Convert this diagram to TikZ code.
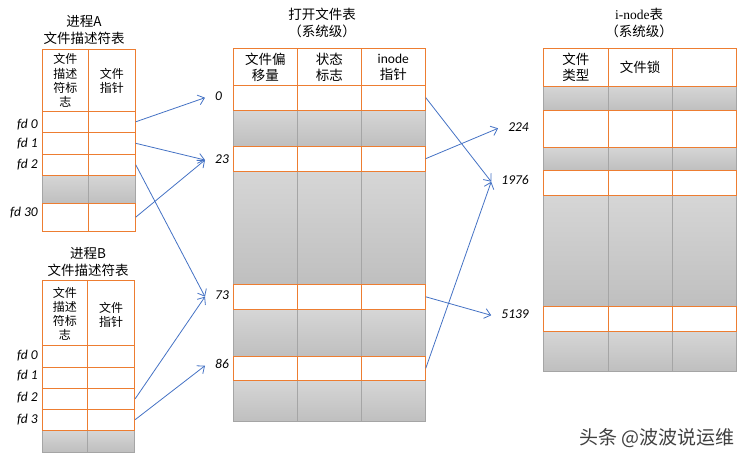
\documentclass[tikz,border=0pt]{standalone}
\usepackage{fontspec}
\setmainfont{Carlito}
\newfontfamily\cjk{Noto Sans CJK SC}
\newfontfamily\inodefont{Liberation Serif}
\usepackage{tikz}
\usetikzlibrary{arrows.meta, positioning, fit}

\definecolor{orline}{HTML}{ED7D31}
\definecolor{grline}{HTML}{A5A5A5}
\definecolor{shtop}{HTML}{D6D6D6}
\definecolor{shbot}{HTML}{BFBFBF}
\definecolor{ptrblue}{HTML}{4472C4}

\begin{document}
\begin{tikzpicture}[
    x=1pt, y=-1pt,
    font=\fontsize{13.5}{16}\selectfont,
    cell/.style={draw=#1, line width=0.9pt, inner sep=0pt},
    whiterow/.style={cell=orline, fill=white},
    grayrow/.style={cell=grline, top color=shtop, bottom color=shbot},
    title/.style={font=\cjk\fontsize{13.5}{17}\selectfont, align=center},
    head/.style={font=\cjk\fontsize{13.5}{16}\selectfont, align=center},
    smallhead/.style={font=\cjk\fontsize{12}{14.2}\selectfont, align=center},
    num/.style={font=\fontsize{13.5}{16}\selectfont\itshape, inner sep=0pt, text height=0.63em, text depth=0pt},
    ptr/.style={-{Straight Barb[length=6pt, width=10pt]}, draw=ptrblue, line width=0.8pt}
]
\useasboundingbox (0,0) rectangle (752,461);

% process A descriptor table
\coordinate (adiv) at (88.3,0);
\foreach \rn/\ra/\rb/\rs/\rl in {ag/175.3/203.3/grayrow/grline, ah/49.3/111.3/whiterow/orline,
    a0/111.3/132.3/whiterow/orline, a1/132.3/154.3/whiterow/orline, a2/154.3/175.3/whiterow/orline,
    a30/203.3/231/whiterow/orline}{
    \node[\rs, fit={(42.3,\ra) (135.3,\rb)}] (\rn) {};
    \draw[\rl, line width=0.9pt] (\rn.north -| adiv) -- (\rn.south -| adiv);
}
\node[title] (ta) at (84,30) {进程A\\文件描述符表};
\node[smallhead] (ah1) at (65.3,80.5) {文件\\描述\\符标\\志};
\node[smallhead] (ah2) at (111.8,81) {文件\\指针};

% process B descriptor table
\coordinate (bdiv) at (87.6,0);
\foreach \rn/\ra/\rb/\rs/\rl in {bg/430/452/grayrow/grline, bh/280/345.3/whiterow/orline,
    b0/345.3/367.3/whiterow/orline, b1/367.3/388.3/whiterow/orline, b2/388.3/409.3/whiterow/orline,
    b3/409.3/430/whiterow/orline}{
    \node[\rs, fit={(42.3,\ra) (134.7,\rb)}] (\rn) {};
    \draw[\rl, line width=0.9pt] (\rn.north -| bdiv) -- (\rn.south -| bdiv);
}
\node[title] (tb) at (88,262) {进程B\\文件描述符表};
\node[smallhead] (bh1) at (64.8,313.7) {文件\\描述\\符标\\志};
\node[smallhead] (bh2) at (111,315) {文件\\指针};

\foreach \ln/\ly/\lt in {la0/125/fd 0, la1/144/fd 1, la2/165.7/fd 2, la30/213/fd 30,
    lb0/356.7/fd 0, lb1/376/fd 1, lb2/398.3/fd 2, lb3/420/fd 3}
    \node[num, anchor=east] (\ln) at (38,\ly) {\lt};

% open file table
\coordinate (mdiv1) at (297.3,0);
\coordinate (mdiv2) at (361.3,0);
\foreach \rn/\ra/\rb/\rs/\rl in {mg1/110/146/grayrow/grline, mg2/171.3/284.3/grayrow/grline,
    mg3/309.3/356.3/grayrow/grline, mg4/380.3/421.3/grayrow/grline, mh/48.7/85.3/whiterow/orline,
    m0/85.3/110/whiterow/orline, m23/146/171.3/whiterow/orline, m73/284.3/309.3/whiterow/orline,
    m86/356.3/380.3/whiterow/orline}{
    \node[\rs, fit={(233.3,\ra) (425.3,\rb)}] (\rn) {};
    \foreach \dv in {mdiv1, mdiv2}
        \draw[\rl, line width=0.9pt] (\rn.north -| \dv) -- (\rn.south -| \dv);
}
\node[title] (tm) at (322,23.3) {打开文件表\\（系统级）};
\node[head] (mh1) at (265.3,67.3) {文件偏\\移量};
\node[head] (mh2) at (329.3,67.3) {状态\\标志};
\node[head] (mh3) at (393.3,67.3) {{\rmfamily inode}\\指针};

\node[num, anchor=west] (o0) at (215,97.7) {0};
\node[num, anchor=west] (o23) at (215,160) {23};
\node[num, anchor=west] (o73) at (215,296.7) {73};
\node[num, anchor=west] (o86) at (215,365.7) {86};

% i-node table
\coordinate (idiv1) at (608,0);
\coordinate (idiv2) at (672.3,0);
\foreach \rn/\ra/\rb/\rs/\rl in {ig1/86/110.3/grayrow/grline, ig2/147/170.3/grayrow/grline,
    ig3/195/306/grayrow/grline, ig4/331/371/grayrow/grline, ih/48.7/86/whiterow/orline,
    i1/110.3/147/whiterow/orline, i2/170.3/195/whiterow/orline, i3/306/331/whiterow/orline}{
    \node[\rs, fit={(543.3,\ra) (736.3,\rb)}] (\rn) {};
    \foreach \dv in {idiv1, idiv2}
        \draw[\rl, line width=0.9pt] (\rn.north -| \dv) -- (\rn.south -| \dv);
}
\node[title] (ti) at (639,22.5) {{\inodefont i-node}表\\（系统级）};
\node[head] (ih1) at (575.8,67.3) {文件\\类型};
\node[head] (ih2) at (640.2,67.3) {文件锁};

\node[num, anchor=east] (n224) at (529,128.3) {224};
\node[num, anchor=east] (n1976) at (529,181.7) {1976};
\node[num, anchor=east] (n5139) at (529,315.3) {5139};

% pointers
\draw[ptr] (a0.east) -- ([xshift=-10pt]o0.west);
\draw[ptr] (a1.east) -- ([xshift=-10pt]o23.west);
\draw[ptr] (a2.east) -- ([xshift=-10pt]o73.west);
\draw[ptr] (a30.east) -- ([xshift=-10pt]o23.west);
\draw[ptr] (b2.east) -- ([xshift=-10pt]o73.west);
\draw[ptr] (b3.east) -- ([xshift=-10pt]o86.west);
\draw[ptr] (m0.east) -- ([xshift=-10pt]n1976.west);
\draw[ptr] (m23.east) -- ([xshift=-10pt]n224.west);
\draw[ptr] (m73.east) -- ([xshift=-10pt]n5139.west);
\draw[ptr] (m86.east) -- ([xshift=-10pt]n1976.west);

\node[font=\cjk\fontsize{19}{19}\selectfont, text=black!75, anchor=east] (wm) at (738,438.3) {头条 @波波说运维};
\end{tikzpicture}
\end{document}
